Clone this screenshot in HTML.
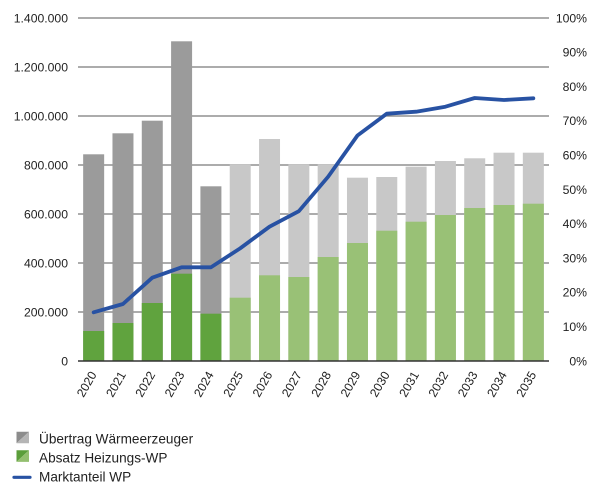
<!DOCTYPE html>
<html><head><meta charset="utf-8"><style>
html,body{margin:0;padding:0;background:#fff;}
svg{display:block;}
text{font-family:"Liberation Sans",sans-serif;fill:#222;}
</style></head><body>
<svg width="600" height="493" viewBox="0 0 600 493" xmlns="http://www.w3.org/2000/svg">
<g stroke="#7a7a7a" stroke-width="1.2">
<line x1="78" y1="18" x2="549" y2="18"/>
<line x1="78" y1="67" x2="549" y2="67"/>
<line x1="78" y1="116" x2="549" y2="116"/>
<line x1="78" y1="165" x2="549" y2="165"/>
<line x1="78" y1="214" x2="549" y2="214"/>
<line x1="78" y1="263" x2="549" y2="263"/>
<line x1="78" y1="312" x2="549" y2="312"/>
</g>
<g>
<rect x="83.16" y="154.3" width="21" height="206.7" fill="#9b9b9b"/>
<rect x="112.47" y="133.3" width="21" height="227.7" fill="#9b9b9b"/>
<rect x="141.78" y="120.7" width="21" height="240.3" fill="#9b9b9b"/>
<rect x="171.09" y="41.3" width="21" height="319.7" fill="#9b9b9b"/>
<rect x="200.41" y="186.3" width="21" height="174.7" fill="#9b9b9b"/>
<rect x="229.72" y="164.7" width="21" height="196.3" fill="#c8c8c8"/>
<rect x="259.03" y="139" width="21" height="222" fill="#c8c8c8"/>
<rect x="288.34" y="164.7" width="21" height="196.3" fill="#c8c8c8"/>
<rect x="317.66" y="164.7" width="21" height="196.3" fill="#c8c8c8"/>
<rect x="346.97" y="177.7" width="21" height="183.3" fill="#c8c8c8"/>
<rect x="376.28" y="177" width="21" height="184" fill="#c8c8c8"/>
<rect x="405.59" y="166.7" width="21" height="194.3" fill="#c8c8c8"/>
<rect x="434.91" y="161" width="21" height="200" fill="#c8c8c8"/>
<rect x="464.22" y="158.3" width="21" height="202.7" fill="#c8c8c8"/>
<rect x="493.53" y="152.7" width="21" height="208.3" fill="#c8c8c8"/>
<rect x="522.84" y="152.7" width="21" height="208.3" fill="#c8c8c8"/>
</g>
<g>
<rect x="83.16" y="331" width="21" height="30" fill="#60a33e"/>
<rect x="112.47" y="323" width="21" height="38" fill="#60a33e"/>
<rect x="141.78" y="303" width="21" height="58" fill="#60a33e"/>
<rect x="171.09" y="273.7" width="21" height="87.3" fill="#60a33e"/>
<rect x="200.41" y="313.7" width="21" height="47.3" fill="#60a33e"/>
<rect x="229.72" y="297.7" width="21" height="63.3" fill="#99c176"/>
<rect x="259.03" y="275.3" width="21" height="85.7" fill="#99c176"/>
<rect x="288.34" y="277" width="21" height="84" fill="#99c176"/>
<rect x="317.66" y="257" width="21" height="104" fill="#99c176"/>
<rect x="346.97" y="243" width="21" height="118" fill="#99c176"/>
<rect x="376.28" y="230.7" width="21" height="130.3" fill="#99c176"/>
<rect x="405.59" y="221.7" width="21" height="139.3" fill="#99c176"/>
<rect x="434.91" y="215" width="21" height="146" fill="#99c176"/>
<rect x="464.22" y="208" width="21" height="153" fill="#99c176"/>
<rect x="493.53" y="205" width="21" height="156" fill="#99c176"/>
<rect x="522.84" y="203.7" width="21" height="157.3" fill="#99c176"/>
</g>
<line x1="78" y1="361" x2="549" y2="361" stroke="#333" stroke-width="1.6"/>
<polyline fill="none" stroke="#2852a3" stroke-width="3.8" stroke-linejoin="round" stroke-linecap="round"
points="93.66,312.3 122.97,304 152.28,277.7 181.59,267.3 210.91,267.3 240.22,248.3 269.53,226.7 298.84,211.2 328.16,176.7 357.47,135.5 386.78,113.7 416.09,111.7 445.41,106.7 474.72,98 504.03,100 533.34,98.3"/>
<g font-size="12.2" text-anchor="end">
<text x="68" y="22.3">1.400.000</text>
<text x="68" y="71.3">1.200.000</text>
<text x="68" y="120.3">1.000.000</text>
<text x="68" y="169.3">800.000</text>
<text x="68" y="218.3">600.000</text>
<text x="68" y="267.3">400.000</text>
<text x="68" y="316.3">200.000</text>
<text x="68" y="365.3">0</text>
</g>
<g font-size="12.2" text-anchor="end">
<text x="587" y="22.3">100%</text>
<text x="587" y="56.6">90%</text>
<text x="587" y="90.9">80%</text>
<text x="587" y="125.2">70%</text>
<text x="587" y="159.5">60%</text>
<text x="587" y="193.8">50%</text>
<text x="587" y="228.1">40%</text>
<text x="587" y="262.4">30%</text>
<text x="587" y="296.7">20%</text>
<text x="587" y="331">10%</text>
<text x="587" y="365.3">0%</text>
</g>
<g font-size="12.2" text-anchor="end">
<text transform="translate(97,374.5) rotate(-60)">2020</text>
<text transform="translate(126.3,374.5) rotate(-60)">2021</text>
<text transform="translate(155.6,374.5) rotate(-60)">2022</text>
<text transform="translate(184.9,374.5) rotate(-60)">2023</text>
<text transform="translate(214.2,374.5) rotate(-60)">2024</text>
<text transform="translate(243.5,374.5) rotate(-60)">2025</text>
<text transform="translate(272.8,374.5) rotate(-60)">2026</text>
<text transform="translate(302.1,374.5) rotate(-60)">2027</text>
<text transform="translate(331.5,374.5) rotate(-60)">2028</text>
<text transform="translate(360.8,374.5) rotate(-60)">2029</text>
<text transform="translate(390.1,374.5) rotate(-60)">2030</text>
<text transform="translate(419.4,374.5) rotate(-60)">2031</text>
<text transform="translate(448.7,374.5) rotate(-60)">2032</text>
<text transform="translate(478,374.5) rotate(-60)">2033</text>
<text transform="translate(507.3,374.5) rotate(-60)">2034</text>
<text transform="translate(536.6,374.5) rotate(-60)">2035</text>
</g>
<polygon points="16.5,431.7 29,431.7 16.5,443.3" fill="#8c8c8c"/>
<polygon points="29,431.7 29,443.3 16.5,443.3" fill="#b5b5b5"/>
<polygon points="16.5,450.3 29,450.3 16.5,461.9" fill="#5b9e3a"/>
<polygon points="29,450.3 29,461.9 16.5,461.9" fill="#93bf6f"/>
<line x1="14" y1="477.3" x2="30" y2="477.3" stroke="#2852a3" stroke-width="3.2" stroke-linecap="round"/>
<g font-size="13.6">
<text x="39" y="443.3">Übertrag Wärmeerzeuger</text>
<text x="39" y="462.3">Absatz Heizungs-WP</text>
<text x="39" y="481.7">Marktanteil WP</text>
</g>
</svg>
</body></html>
